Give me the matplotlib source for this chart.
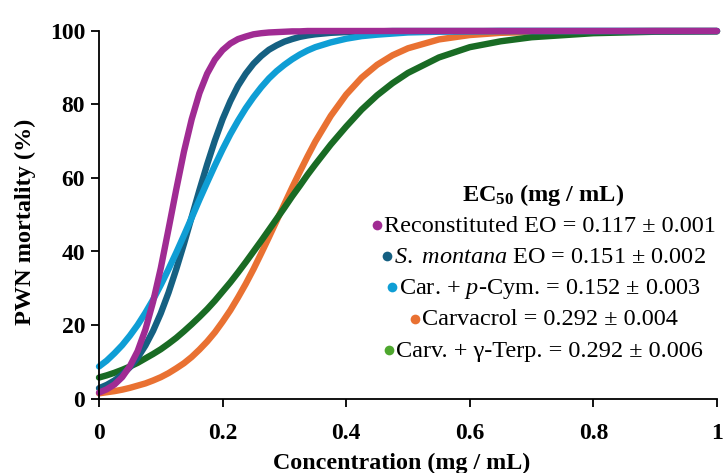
import matplotlib
matplotlib.use("Agg")
import matplotlib.pyplot as plt
from matplotlib.lines import Line2D

plt.rcParams['font.family'] = ['Liberation Serif', 'DejaVu Serif']
plt.rcParams['mathtext.fontset'] = 'custom'
plt.rcParams['mathtext.rm'] = 'Liberation Serif'
plt.rcParams['mathtext.it'] = 'Liberation Serif:italic'
plt.rcParams['mathtext.bf'] = 'Liberation Serif:bold'

# ---- data ----
conc = [0, 0.0125, 0.025, 0.0375, 0.05, 0.0625, 0.075, 0.0875, 0.1, 0.1125,
        0.125, 0.1375, 0.15, 0.1625, 0.175, 0.1875, 0.2, 0.2125, 0.225, 0.2375,
        0.25, 0.2625, 0.275, 0.2875, 0.3, 0.3125, 0.325, 0.3375, 0.35,
        0.375, 0.4, 0.425, 0.45, 0.475, 0.5, 0.55, 0.6, 0.65, 0.7, 0.8, 0.9, 1.0]
reconstituted = [1.6, 2.5, 3.8, 5.8, 8.8, 12.9, 18.7, 26.3, 35.5, 46.1,
                 56.9, 67.2, 76.0, 83.1, 88.4, 92.2, 94.8, 96.6, 97.8, 98.5,
                 99.1, 99.4, 99.6, 99.7, 99.8, 99.9, 99.9, 100, 100,
                 100, 100, 100, 100, 100, 100, 100, 100, 100, 100, 100, 100, 100]
s_montana = [2.8, 3.7, 4.9, 6.5, 8.5, 11.1, 14.4, 18.4, 23.2, 28.8,
             35.2, 42.1, 49.4, 56.7, 63.7, 70.2, 76.0, 80.9, 85.1, 88.4,
             91.1, 93.2, 94.9, 96.1, 97.1, 97.8, 98.4, 98.8, 99.1,
             99.5, 99.7, 99.8, 99.9, 100, 100, 100, 100, 100, 100, 100, 100, 100]
car_pcym = [8.7, 10.3, 12.3, 14.5, 17.1, 20.0, 23.3, 26.9, 30.9, 35.2,
            39.7, 44.4, 49.2, 54.1, 58.8, 63.4, 67.8, 71.9, 75.6, 79.0,
            82.0, 84.7, 87.1, 89.1, 90.8, 92.3, 93.6, 94.7, 95.6,
            96.9, 97.9, 98.6, 99.0, 99.3, 99.6, 99.8, 99.9, 100, 100, 100, 100, 100]
carvacrol = [1.4, 1.7, 2.0, 2.4, 2.9, 3.5, 4.1, 4.9, 5.8, 6.9,
             8.2, 9.6, 11.3, 13.3, 15.5, 18.0, 20.9, 24.0, 27.5, 31.2,
             35.2, 39.5, 43.9, 48.4, 52.9, 57.4, 61.7, 65.9, 69.9,
             76.9, 82.7, 87.3, 90.8, 93.4, 95.3, 97.7, 98.9, 99.5, 99.7, 99.9, 100, 100]
carv_gterp = [5.7, 6.3, 7.0, 7.8, 8.7, 9.7, 10.9, 12.1, 13.4, 14.9,
              16.5, 18.3, 20.2, 22.2, 24.3, 26.6, 29.1, 31.6, 34.3, 37.1,
              40.0, 42.9, 45.9, 48.9, 51.9, 55.0, 57.9, 60.9, 63.7,
              69.1, 74.0, 78.6, 82.5, 85.8, 88.6, 92.8, 95.6, 97.2, 98.3, 99.4, 99.8, 99.9]

x_ticks = [0, 0.2, 0.4, 0.6, 0.8, 1.0]
x_ticklabels = ['0', '0.2', '0.4', '0.6', '0.8', '1']
y_ticks = [0, 20, 40, 60, 80, 100]

legend_title = r"EC$_{\mathbf{50}}$ (mg / mL)"
legend_lines = [
    "Reconstituted EO = 0.117 ± 0.001",
    r"$\mathit{S.\ montana}$ EO = 0.151 ± 0.002",
    r"Car. + $\mathit{p}$-Cym. = 0.152 ± 0.003",
    "Carvacrol = 0.292 ± 0.004",
    "Carv. + γ-Terp. = 0.292 ± 0.006",
]

C_PURPLE = '#A02B93'
C_DBLUE = '#156082'
C_LBLUE = '#0F9ED5'
C_ORANGE = '#E97132'
C_GREEN = '#196B24'
C_GREEN_DOT = '#4EA72E'

W, H = 723, 473
fig = plt.figure(figsize=(W / 100, H / 100), dpi=100)
ax = fig.add_axes([99 / W, 1 - 398.5 / H, 618 / W, 367.5 / H])

lw = 4.6
for ys, col in [(carvacrol, C_ORANGE), (carv_gterp, C_GREEN), (s_montana, C_DBLUE),
                (car_pcym, C_LBLUE), (reconstituted, C_PURPLE)]:
    ax.plot(conc, ys, color=col, lw=lw, solid_capstyle='round',
            solid_joinstyle='round', clip_on=False)

ax.set_xlim(0, 1)
ax.set_ylim(0, 100)
ax.set_xticks(x_ticks)
ax.set_xticklabels(x_ticklabels)
ax.set_yticks(y_ticks)
for s in ['top', 'right']:
    ax.spines[s].set_visible(False)
for s in ['left', 'bottom']:
    ax.spines[s].set_linewidth(1.3)
ax.tick_params(axis='both', direction='out', length=5.5, width=1.3, labelsize=17)
ax.tick_params(axis='x', pad=12)
ax.tick_params(axis='y', pad=4.5)
for lab in ax.get_xticklabels() + ax.get_yticklabels():
    lab.set_fontweight('bold')

fig.text(25 / W, 1 - 222 / H, "PWN mortality (%)", rotation=90, ha='center',
         va='center', fontsize=17.5, fontweight='bold')
fig.text(402 / W, 1 - 463 / H, "Concentration (mg / mL)", ha='center',
         va='center', fontsize=17.3, fontweight='bold')

# legend-like annotation
fig.text(543 / W, 1 - 200.5 / H, legend_title, ha='center', va='baseline',
         fontsize=17.5, fontweight='bold')
baselines = [231.7, 262.9, 294.1, 325.3, 356.5]
dot_colors = [C_PURPLE, C_DBLUE, C_LBLUE, C_ORANGE, C_GREEN_DOT]
texts = []
for s, b in zip(legend_lines, baselines):
    texts.append(fig.text(549.5 / W, 1 - b / H, s, ha='center', va='baseline',
                          fontsize=17.5))

fig.canvas.draw()
r = fig.canvas.get_renderer()
for t, b, c in zip(texts, baselines, dot_colors):
    bb = t.get_window_extent(r)
    xd = bb.x0 - 7
    yd = (H - b) + 6.7
    fig.add_artist(Line2D([xd / W], [yd / H], marker='o', ms=7, color=c,
                          markeredgewidth=0, transform=fig.transFigure))

fig.savefig('out.png', dpi=100)
